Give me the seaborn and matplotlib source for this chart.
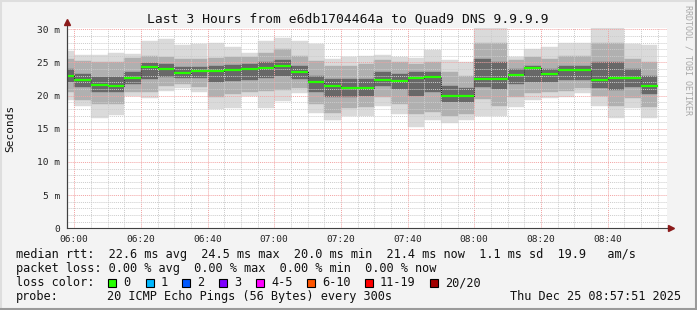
import numpy as np
import pandas as pd
import matplotlib
matplotlib.use("Agg")
import matplotlib.pyplot as plt
import matplotlib.dates as mdates
from matplotlib.lines import Line2D
from matplotlib.patches import Rectangle
import seaborn as sns

# ---------------- data ----------------
title = "Last 3 Hours from e6db1704464a to Quad9 DNS 9.9.9.9"
interval_end = pd.date_range("2025-12-25 06:00", periods=36, freq="5min")
median_ms = [23.0, 22.4, 21.6, 21.4, 22.6, 24.3, 24.0, 23.4, 23.7, 23.7, 23.9, 24.0,
             24.2, 24.5, 23.6, 22.1, 21.5, 21.2, 21.2, 22.4, 22.2, 22.7, 22.8, 20.0,
             20.0, 22.5, 22.5, 23.1, 24.2, 23.2, 23.8, 23.8, 22.4, 22.7, 22.7, 21.4]
min_ms = [19.4, 18.5, 16.6, 17.1, 19.9, 19.6, 20.7, 21.2, 20.6, 18.0, 18.2, 19.9,
          18.2, 19.2, 20.4, 17.4, 16.4, 16.9, 17.0, 18.4, 17.3, 15.3, 16.4, 15.8,
          16.4, 17.0, 17.0, 18.3, 19.3, 19.6, 19.8, 20.4, 18.4, 16.7, 18.1, 16.7]
p10_ms = [20.6, 19.3, 18.7, 18.8, 20.5, 20.6, 21.5, 21.8, 21.3, 19.8, 20.3, 20.5,
          20.7, 20.9, 21.1, 18.7, 17.4, 18.2, 18.3, 19.8, 18.8, 17.2, 17.5, 17.0,
          17.2, 19.5, 18.5, 19.8, 20.4, 20.5, 20.7, 21.2, 19.9, 18.4, 19.6, 18.3]
p25_ms = [22.0, 21.3, 20.5, 20.6, 21.8, 22.5, 22.8, 22.6, 22.6, 22.0, 22.2, 22.4,
          22.6, 23.0, 22.5, 20.6, 19.8, 19.8, 19.9, 21.4, 21.0, 20.0, 20.5, 19.0,
          19.0, 21.3, 21.0, 21.8, 22.0, 22.0, 22.4, 22.4, 21.2, 20.8, 21.3, 20.3]
p75_ms = [24.0, 23.3, 22.8, 22.8, 23.6, 24.9, 24.8, 24.3, 24.3, 24.4, 24.6, 24.8,
          25.0, 25.4, 24.5, 23.0, 22.5, 22.5, 22.5, 23.6, 23.2, 23.5, 23.5, 21.5,
          21.2, 25.5, 25.0, 24.0, 24.5, 24.0, 24.5, 24.5, 25.0, 25.0, 24.0, 23.0]
p90_ms = [25.5, 25.2, 25.0, 25.0, 25.7, 26.0, 25.8, 25.5, 25.5, 25.6, 25.8, 25.8,
          26.5, 27.0, 26.0, 25.2, 24.5, 24.5, 24.7, 25.3, 25.0, 24.8, 25.0, 23.5,
          23.0, 28.0, 28.0, 25.3, 25.8, 25.5, 26.0, 26.0, 28.0, 28.0, 25.5, 25.0]
max_ms = [26.8, 26.1, 26.1, 26.4, 26.3, 28.2, 28.5, 27.6, 27.8, 27.9, 27.3, 26.4,
          28.3, 28.7, 28.2, 27.8, 25.5, 25.8, 26.0, 26.1, 25.8, 25.6, 26.9, 25.3,
          25.1, 30.5, 30.5, 25.8, 27.0, 27.4, 27.9, 28.0, 30.5, 30.5, 27.8, 27.6]

y_ticks = [0, 5, 10, 15, 20, 25, 30]
y_tick_labels = ["0", "5 m", "10 m", "15 m", "20 m", "25 m", "30 m"]

legend_line1 = "median rtt:  22.6 ms avg  24.5 ms max  20.0 ms min  21.4 ms now  1.1 ms sd  19.9   am/s"
legend_line2 = "packet loss: 0.00 % avg  0.00 % max  0.00 % min  0.00 % now"
loss_labels = ["0", "1", "2", "3", "4-5", "6-10", "11-19", "20/20"]
loss_colors = ["#26ff00", "#00b8ff", "#0059ff", "#7e00ff", "#ff00ff", "#ff5500", "#ff0000", "#a10000"]
probe_text = "20 ICMP Echo Pings (56 Bytes) every 300s"
stamp_text = "Thu Dec 25 08:57:51 2025"
t_start = pd.Timestamp("2025-12-25 05:57:51")
t_end = pd.Timestamp("2025-12-25 08:57:51")

# ---------------- figure ----------------
W, H = 697, 310
sns.set_style("white")
plt.rcParams["font.family"] = ["DejaVu Sans Mono", "DejaVu Sans"]
fig = plt.figure(figsize=(W / 100, H / 100), dpi=100)
fig.patch.set_facecolor("#f3f3f3")

def fx(px):
    return px / W

def fy(py):
    return 1 - py / H

y_top = 30.15
ax = fig.add_axes([fx(67), fy(228.3), fx(600), (228.3 - 28.3) / H])
ax.set_facecolor("white")

df = pd.DataFrame({
    "end": interval_end, "median": median_ms, "mn": min_ms, "p10": p10_ms,
    "p25": p25_ms, "p75": p75_ms, "p90": p90_ms, "mx": max_ms,
})
df["start"] = df["end"] - pd.Timedelta(minutes=5)
width = 5 / 1440.0

bands = [("mn", "mx", "#dadada"), ("p10", "p90", "#b0b0b0"), ("p25", "p75", "#686868")]
for lo, hi, col in bands:
    ax.bar(mdates.date2num(df["start"]), df[hi] - df[lo], bottom=df[lo], width=width,
           align="edge", color=col, edgecolor=col, linewidth=0.3, zorder=1)

# median step line (thin dark connectors) + green segments
step_x = list(df["start"]) + [df["end"].iloc[-1]]
step_y = list(df["median"]) + [df["median"].iloc[-1]]
sns.lineplot(x=mdates.date2num(step_x), y=step_y, drawstyle="steps-post", color="#202020",
             linewidth=0.7, linestyle=(0, (1, 1)), ax=ax, zorder=4, estimator=None)
ax.hlines(df["median"], mdates.date2num(df["start"]), mdates.date2num(df["end"]),
          colors="#26ff00", linewidth=1.6, zorder=5)

ax.set_xlim(mdates.date2num(t_start), mdates.date2num(t_end))
ax.set_ylim(0, y_top)

# ticks
ax.xaxis.set_major_locator(mdates.MinuteLocator(byminute=[0, 20, 40]))
ax.xaxis.set_minor_locator(mdates.MinuteLocator(byminute=list(range(0, 60, 5))))
ax.xaxis.set_major_formatter(mdates.DateFormatter("%H:%M"))
ax.set_yticks(y_ticks)
ax.set_yticklabels(y_tick_labels)
ax.set_yticks(np.arange(0, 31, 1), minor=True)
ax.tick_params(axis="both", which="major", labelsize=6.8, length=3, width=0.7,
               color="#404040", direction="out", pad=2, labelcolor="#222222")
ax.tick_params(axis="both", which="minor", length=2, width=0.7, color="#404040", direction="out")

# grid on top of smoke
ax.set_axisbelow(False)
ax.grid(which="minor", color="#cccccc", linestyle=(0, (1, 1)), linewidth=0.7, zorder=2)
ax.grid(which="major", color="#f2a3a3", linestyle=(0, (1, 1)), linewidth=0.7, zorder=2)

for s in ["top", "right"]:
    ax.spines[s].set_visible(False)
for s in ["left", "bottom"]:
    ax.spines[s].set_color("#404040")
    ax.spines[s].set_linewidth(0.8)

# axis arrows
fig.add_artist(Line2D([fx(67), fx(67)], [fy(228.3), fy(24)], color="#404040", linewidth=0.8))
fig.add_artist(Line2D([fx(667), fx(669)], [fy(228.3), fy(228.3)], color="#404040", linewidth=0.8))
fig.add_artist(Line2D([fx(671)], [fy(228.3)], marker=">", markersize=4, color="#8b1a1a",
                      linewidth=0))
fig.add_artist(Line2D([fx(67)], [fy(22)], marker="^", markersize=4, color="#8b1a1a",
                      linewidth=0))

ax.set_xlabel("")
ax.set_ylabel("")

# texts
fig.text(fx(348), fy(19), title, ha="center", va="center", fontsize=9.4, color="#111111")
fig.text(fx(10), fy(128), "Seconds", rotation=90, ha="center", va="center", fontsize=8,
         color="#111111")
fig.text(fx(688), fy(60), "RRDTOOL / TOBI OETIKER", rotation=270, ha="center", va="center",
         fontsize=6, color="#a8a8a8")

fs = 8.55
fig.text(fx(16), fy(254.5), legend_line1, ha="left", va="center", fontsize=fs, color="#111111")
fig.text(fx(16), fy(268.5), legend_line2, ha="left", va="center", fontsize=fs, color="#111111")
fig.text(fx(16), fy(282.5), "loss color:", ha="left", va="center", fontsize=fs, color="#111111")
box_x = [108, 146, 182, 219, 256, 307, 365, 430]
for bx, lab, col in zip(box_x, loss_labels, loss_colors):
    fig.add_artist(Rectangle((fx(bx), fy(286.5)), fx(8), 8 / H, facecolor=col,
                             edgecolor="#000000", linewidth=0.8))
    fig.text(fx(bx + 15), fy(282.5), lab, ha="left", va="center", fontsize=fs, color="#111111")
fig.text(fx(16), fy(296.5), "probe:", ha="left", va="center", fontsize=fs, color="#111111")
fig.text(fx(107), fy(296.5), probe_text, ha="left", va="center", fontsize=fs, color="#111111")
fig.text(fx(681), fy(296.5), stamp_text, ha="right", va="center", fontsize=fs, color="#111111")

# frame
fig.add_artist(Line2D([0, 1], [fy(0.5), fy(0.5)], color="#dedede", linewidth=1.5))
fig.add_artist(Line2D([fx(0.5), fx(0.5)], [0, 1], color="#dedede", linewidth=1.5))
fig.add_artist(Line2D([0, 1], [fy(309), fy(309)], color="#9a9a9a", linewidth=1.5))
fig.add_artist(Line2D([fx(696), fx(696)], [0, 1], color="#9a9a9a", linewidth=1.5))

fig.savefig("out.png", dpi=100, facecolor=fig.get_facecolor())
